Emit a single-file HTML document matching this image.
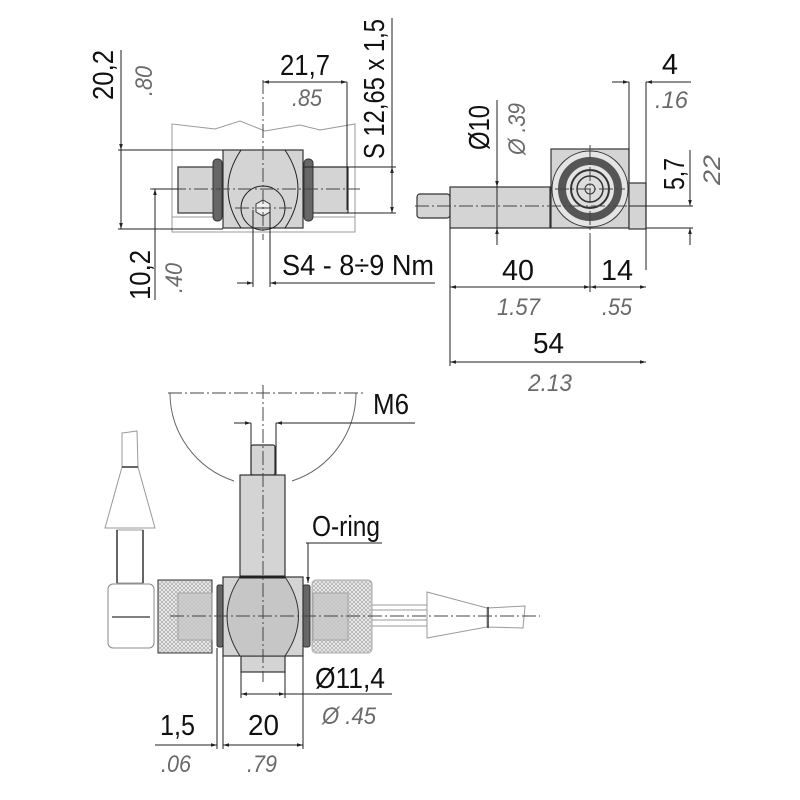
<!DOCTYPE html>
<html><head><meta charset="utf-8"><style>
html,body{margin:0;padding:0;background:#fff}
svg{display:block}
.t{font-family:"Liberation Sans",sans-serif;font-size:29px;fill:#111}
.i{font-family:"Liberation Sans",sans-serif;font-size:24px;font-style:italic;fill:#6a6a6a}
.d{stroke:#222;stroke-width:1;fill:none}
.c{stroke:#444;stroke-width:1;fill:none;stroke-dasharray:14 3 2 3}
.g{fill:#d4d4d4;stroke:#333;stroke-width:1.2}
.lt{stroke:#999;stroke-width:1;fill:none}
</style></head><body>
<svg width="800" height="800" viewBox="0 0 800 800" xmlns="http://www.w3.org/2000/svg">
<defs>
<marker id="a" viewBox="0 0 10 10" refX="10" refY="5" markerWidth="9" markerHeight="6" orient="auto-start-reverse"><path d="M0,2 L10,5 L0,8 z" fill="#222"/></marker>
<pattern id="h" width="4" height="4" patternUnits="userSpaceOnUse"><rect width="4" height="4" fill="#eee"/><path d="M0,0L4,4M4,0L0,4" stroke="#aaa" stroke-width="0.7"/></pattern>
</defs>

<!-- ============ TOP LEFT VIEW ============ -->
<path class="lt" d="M172,232 L172,124 L215,129 L240,121 L265,131 L300,125 L320,130 L355,124 L355,232"/>
<rect x="172" y="217" width="183" height="15" fill="#fff" stroke="#999"/>
<rect class="g" x="178" y="167" width="45" height="46"/>
<rect class="g" x="303" y="167" width="45" height="46"/>
<rect x="213" y="159" width="9" height="62" rx="4" fill="#666" stroke="#333"/>
<rect x="304" y="159" width="9" height="62" rx="4" fill="#666" stroke="#333"/>
<rect class="g" x="223" y="150" width="80" height="78"/>
<path d="M241,150 Q215,189 241,228 M285,150 Q311,189 285,228" class="d"/>
<circle cx="263" cy="208" r="22" class="d"/>
<polygon points="263,200 270,204 270,212 263,216 256,212 256,204" fill="#eee" stroke="#333"/>
<line class="c" x1="150" y1="189" x2="360" y2="189"/>
<line class="c" x1="263" y1="80" x2="263" y2="240"/>
<line class="c" x1="235" y1="208" x2="292" y2="208"/>
<!-- 20,2 -->
<line class="d" x1="118" y1="150" x2="223" y2="150"/>
<line class="d" x1="118" y1="229" x2="223" y2="229"/>
<line class="d" x1="121" y1="50" x2="121" y2="229" marker-end="url(#a)"/>
<line class="d" x1="121" y1="140" x2="121" y2="150" marker-end="url(#a)"/>
<text class="t" transform="translate(113,100) rotate(-90)" textLength="50" lengthAdjust="spacingAndGlyphs">20,2</text>
<text class="i" transform="translate(152,96) rotate(-90)" textLength="30" lengthAdjust="spacingAndGlyphs">.80</text>
<!-- 10,2 -->
<line class="d" x1="152" y1="189" x2="178" y2="189"/>
<line class="d" x1="155" y1="300" x2="155" y2="189" marker-end="url(#a)"/>
<text class="t" transform="translate(150,300) rotate(-90)" textLength="50" lengthAdjust="spacingAndGlyphs">10,2</text>
<text class="i" transform="translate(182,293) rotate(-90)" textLength="30" lengthAdjust="spacingAndGlyphs">.40</text>
<!-- 21,7 -->
<line class="d" x1="347" y1="82" x2="347" y2="210"/>
<line class="d" x1="263" y1="82" x2="347" y2="82" marker-start="url(#a)" marker-end="url(#a)"/>
<text class="t" x="280" y="75" textLength="50" lengthAdjust="spacingAndGlyphs">21,7</text>
<text class="i" x="292" y="106" textLength="30" lengthAdjust="spacingAndGlyphs">.85</text>
<!-- S12,65 -->
<line class="d" x1="303" y1="167" x2="396" y2="167"/>
<line class="d" x1="347" y1="213" x2="396" y2="213"/>
<line class="d" x1="392" y1="18" x2="392" y2="213"/>
<line class="d" x1="392" y1="190" x2="392" y2="167" marker-end="url(#a)"/>
<line class="d" x1="392" y1="190" x2="392" y2="213" marker-end="url(#a)"/>
<text class="t" transform="translate(384,159) rotate(-90)" textLength="140" lengthAdjust="spacingAndGlyphs">S 12,65 x 1,5</text>
<!-- S4 -->
<line class="d" x1="253" y1="210" x2="253" y2="287"/>
<line class="d" x1="270" y1="210" x2="270" y2="287"/>
<line class="d" x1="237" y1="283" x2="253" y2="283" marker-end="url(#a)"/>
<line class="d" x1="435" y1="283" x2="270" y2="283" marker-end="url(#a)"/>
<text class="t" x="282" y="275" textLength="152" lengthAdjust="spacingAndGlyphs">S4 - 8÷9 Nm</text>

<!-- ============ TOP RIGHT VIEW ============ -->
<rect class="g" x="417" y="194" width="33" height="24" rx="3"/>
<rect class="g" x="450" y="187" width="100" height="41"/>
<rect class="g" x="551" y="149" width="78" height="79"/>
<rect class="g" x="629" y="183" width="17" height="46"/>
<circle cx="590" cy="189" r="38" fill="#e4e4e4" stroke="#333"/>
<circle cx="590" cy="189" r="28" fill="none" stroke="#555" stroke-width="8"/>
<circle cx="590" cy="189" r="19" fill="#ddd" stroke="#333" stroke-width="2"/>
<circle cx="590" cy="189" r="13" fill="none" stroke="#333" stroke-width="1.5"/>
<circle cx="590" cy="189" r="5" fill="none" stroke="#333"/>
<line class="c" x1="415" y1="206" x2="695" y2="206"/>
<line class="c" x1="590" y1="145" x2="590" y2="240"/>
<line class="c" x1="555" y1="189" x2="625" y2="189"/>
<!-- 4 -->
<line class="d" x1="629" y1="82" x2="629" y2="183"/>
<line class="d" x1="646" y1="82" x2="646" y2="270"/>
<line class="d" x1="612" y1="82" x2="629" y2="82" marker-end="url(#a)"/>
<line class="d" x1="691" y1="82" x2="646" y2="82" marker-end="url(#a)"/>
<text class="t" x="670" y="74" text-anchor="middle">4</text>
<text class="i" x="655" y="108" textLength="33" lengthAdjust="spacingAndGlyphs">.16</text>
<!-- Ø10 -->
<line class="d" x1="497" y1="100" x2="497" y2="187" marker-end="url(#a)"/>
<line class="d" x1="497" y1="245" x2="497" y2="228" marker-end="url(#a)"/>
<line class="d" x1="497" y1="187" x2="497" y2="228"/>
<text class="t" transform="translate(489,150) rotate(-90)" textLength="45" lengthAdjust="spacingAndGlyphs">Ø10</text>
<text class="i" transform="translate(525,155) rotate(-90)" textLength="52" lengthAdjust="spacingAndGlyphs">Ø .39</text>
<!-- 5,7 -->
<line class="d" x1="629" y1="206" x2="693" y2="206"/>
<line class="d" x1="646" y1="228" x2="693" y2="228"/>
<line class="d" x1="690" y1="150" x2="690" y2="206" marker-end="url(#a)"/>
<line class="d" x1="690" y1="245" x2="690" y2="228" marker-end="url(#a)"/>
<text class="t" transform="translate(684,190) rotate(-90)" textLength="32" lengthAdjust="spacingAndGlyphs">5,7</text>
<text class="i" transform="translate(720,185) rotate(-90)" textLength="30" lengthAdjust="spacingAndGlyphs">22</text>
<!-- 40 / 14 / 54 -->
<line class="d" x1="450" y1="228" x2="450" y2="366"/>
<line class="d" x1="590" y1="240" x2="590" y2="292"/>
<line class="d" x1="450" y1="287" x2="590" y2="287" marker-start="url(#a)" marker-end="url(#a)"/>
<line class="d" x1="590" y1="287" x2="646" y2="287" marker-start="url(#a)" marker-end="url(#a)"/>
<text class="t" x="502" y="280" textLength="32" lengthAdjust="spacingAndGlyphs">40</text>
<text class="t" x="601" y="280" textLength="32" lengthAdjust="spacingAndGlyphs">14</text>
<text class="i" x="497" y="315" textLength="43" lengthAdjust="spacingAndGlyphs">1.57</text>
<text class="i" x="602" y="315" textLength="30" lengthAdjust="spacingAndGlyphs">.55</text>
<line class="d" x1="450" y1="362" x2="646" y2="362" marker-start="url(#a)" marker-end="url(#a)"/>
<text class="t" x="533" y="353" textLength="31" lengthAdjust="spacingAndGlyphs">54</text>
<text class="i" x="528" y="391" textLength="44" lengthAdjust="spacingAndGlyphs">2.13</text>

<!-- ============ BOTTOM VIEW ============ -->
<path d="M170,393 A93,93 0 0 0 234,481 M292,481 A93,93 0 0 0 356,393" fill="none" stroke="#666"/>
<line class="c" x1="168" y1="393" x2="365" y2="393"/>
<!-- left cable/elbow -->
<path d="M122,433 L137,431 L138,467 L122,467 Z" fill="#fff" stroke="#999"/>
<path d="M122,467 L138,467 L155,528 L105,528 Z" fill="#fff" stroke="#999"/>
<line x1="122" y1="467" x2="138" y2="467" stroke="#333" stroke-width="1.5"/>
<rect x="117" y="530" width="26" height="53" fill="#fff" stroke="#999"/>
<line x1="117" y1="530" x2="117" y2="583" stroke="#333" stroke-width="1.5"/>
<line x1="143" y1="530" x2="143" y2="583" stroke="#333" stroke-width="1.5"/>
<rect x="108" y="584" width="46" height="64" rx="5" fill="#fff" stroke="#888"/>
<line x1="112" y1="617" x2="150" y2="617" stroke="#555" stroke-width="1.5"/>
<!-- left nut -->
<rect x="158" y="580" width="54" height="73" fill="url(#h)" stroke="#333"/>
<rect x="178" y="593" width="34" height="47" fill="#c8c8c8" stroke="#999" opacity=".8"/>
<!-- right nut -->
<rect x="312" y="580" width="60" height="73" rx="4" fill="url(#h)" stroke="#aaa"/>
<rect x="313" y="593" width="35" height="47" fill="#c8c8c8" stroke="#999" opacity=".8"/>
<!-- right cable -->
<line x1="372" y1="605" x2="427" y2="605" stroke="#999"/>
<line x1="372" y1="610" x2="427" y2="610" stroke="#999"/>
<line x1="372" y1="620" x2="427" y2="620" stroke="#999"/>
<line x1="372" y1="626" x2="427" y2="626" stroke="#999"/>
<path d="M427,592 L487,608 L487,627 L427,638 Z" fill="#fff" stroke="#999"/>
<path d="M487,608 L525,606 L523,628 L487,627" fill="#fff" stroke="#999"/>
<line x1="488" y1="607" x2="488" y2="628" stroke="#333" stroke-width="1.5"/>
<!-- M6 stub + stem -->
<rect class="g" x="251" y="445" width="24" height="30" rx="2"/>
<rect class="g" x="240" y="475" width="45" height="102"/>
<!-- body -->
<rect x="217" y="585" width="6" height="62" rx="2" fill="#666" stroke="#333"/>
<rect x="303" y="585" width="7" height="62" rx="2" fill="#666" stroke="#333"/>
<rect class="g" x="241" y="656" width="44" height="16"/>
<rect class="g" x="223" y="577" width="80" height="79"/>
<path d="M240,577 L285,577 Q312,616 285,656 L240,656 Q214,616 240,577 Z" fill="#c6c6c6" stroke="#333"/>
<line x1="240" y1="577" x2="285" y2="577" stroke="#222" stroke-width="3"/>
<line class="c" x1="170" y1="616" x2="540" y2="616"/>
<line class="c" x1="263" y1="385" x2="263" y2="682"/>
<!-- M6 dim -->
<line class="d" x1="251" y1="423" x2="251" y2="475"/>
<line class="d" x1="276" y1="423" x2="276" y2="475"/>
<line class="d" x1="234" y1="423" x2="251" y2="423" marker-end="url(#a)"/>
<line class="d" x1="415" y1="423" x2="276" y2="423" marker-end="url(#a)"/>
<text class="t" x="373" y="414" textLength="36" lengthAdjust="spacingAndGlyphs">M6</text>
<!-- O-ring -->
<text class="t" x="312" y="536" textLength="68" lengthAdjust="spacingAndGlyphs">O-ring</text>
<line class="d" x1="306" y1="543" x2="382" y2="543"/>
<line class="d" x1="308" y1="543" x2="308" y2="583" marker-end="url(#a)"/>
<!-- Ø11,4 -->
<line class="d" x1="241" y1="672" x2="241" y2="698"/>
<line class="d" x1="285" y1="672" x2="285" y2="698"/>
<line class="d" x1="241" y1="694" x2="392" y2="694"/>
<line class="d" x1="262" y1="694" x2="241" y2="694" marker-end="url(#a)"/>
<line class="d" x1="264" y1="694" x2="285" y2="694" marker-end="url(#a)"/>
<text class="t" x="315" y="688" textLength="70" lengthAdjust="spacingAndGlyphs">Ø11,4</text>
<text class="i" x="322" y="724" textLength="54" lengthAdjust="spacingAndGlyphs">Ø .45</text>
<!-- 1,5 / 20 -->
<line class="d" x1="217" y1="648" x2="217" y2="749"/>
<line class="d" x1="223" y1="656" x2="223" y2="749"/>
<line class="d" x1="303" y1="656" x2="303" y2="749"/>
<line class="d" x1="155" y1="745" x2="217" y2="745" marker-end="url(#a)"/>
<line class="d" x1="223" y1="745" x2="303" y2="745" marker-start="url(#a)" marker-end="url(#a)"/>
<text class="t" x="160" y="735" textLength="35" lengthAdjust="spacingAndGlyphs">1,5</text>
<text class="i" x="161" y="772" textLength="30" lengthAdjust="spacingAndGlyphs">.06</text>
<text class="t" x="248" y="735" textLength="31" lengthAdjust="spacingAndGlyphs">20</text>
<text class="i" x="247" y="772" textLength="30" lengthAdjust="spacingAndGlyphs">.79</text>
</svg>
</body></html>
